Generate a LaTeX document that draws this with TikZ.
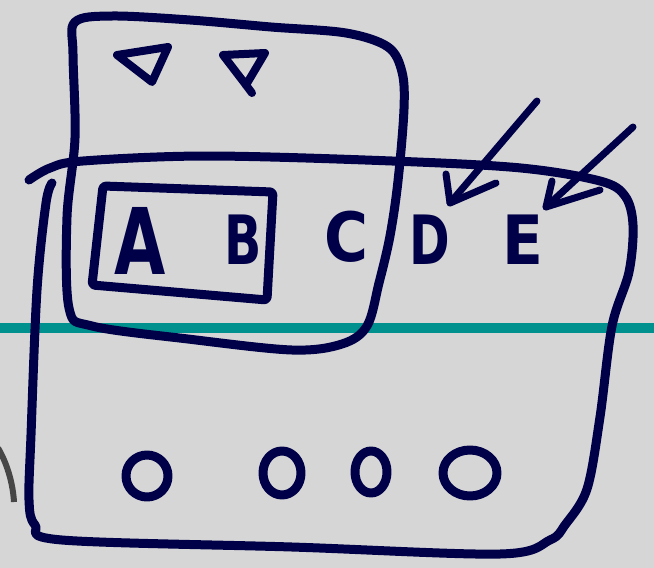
\documentclass[tikz,border=0pt]{standalone}
\usepackage{fontspec}
\setmainfont{DejaVu Sans}
\definecolor{navy}{RGB}{0,0,72}
\definecolor{bg}{RGB}{214,214,214}
\definecolor{tealline}{RGB}{0,145,143}
\definecolor{arcgray}{RGB}{70,70,70}
\begin{document}
\begin{tikzpicture}[x=1pt,y=-1pt, line cap=round, line join=round,
  pen/.style={draw=navy, line width=9pt},
  thinpen/.style={draw=navy, line width=7pt},
  glyph/.style={text=navy, inner sep=0pt, font=\bfseries\fontsize{68}{68}\selectfont},
  letter/.style={glyph, xscale=0.72},
  wideletter/.style={glyph, xscale=0.88},
  bigletter/.style={glyph, xscale=0.72, font=\bfseries\fontsize{92}{92}\selectfont}]
\fill[bg] (0,0) rectangle (654,568);
\useasboundingbox (0,0) rectangle (654,568);
% teal ruled line
\coordinate (tl) at (0,328);
\coordinate (tr) at (654,328);
\draw[tealline, line width=10pt, line cap=butt] (tl) -- (tr);
% grey arc at left edge
\draw[arcgray, line width=6pt, line cap=butt] (-2,448) .. controls (8,465) and (13,485) .. (14,502);
% upper box
\draw[pen] plot[smooth cycle, tension=0.55] coordinates {
 (75,22) (112,16) (190,20) (271,27) (346,33) (388,47) (402,72) (404,109)
 (398,181) (390,236) (379,283) (367,326) (342,344) (292,350) (188,339)
 (92,326) (69,308) (67,217) (75,138) (73,54)};
% big box
\draw[pen] plot[smooth, tension=0.55] coordinates {
 (29,180) (50,168) (83,161) (208,156) (392,161) (521,168) (600,181)
 (625,196) (633,225) (629,272) (612,326) (600,417) (587,489) (565,525)
 (550,540) (500,554) (292,547) (62,540) (35,525) (29,500) (31,435)
 (37,290) (46,203) (52,183)};
% inner box around A B
\draw[pen, rounded corners=3pt] (103,186) -- (273,192) -- (267,300) -- (92,285) -- cycle;
% triangles
\draw[pen, line width=8pt] (117,55) -- (168,47) -- (152,82) -- cycle;
\draw[pen, line width=8pt] (223,55) -- (265,53) -- (246,85) -- cycle;
\draw[pen, line width=8pt] (246,85) -- (252,93);
% letters
\node[bigletter] (A) at (140,241) {A};
\node[letter] (B) at (243,240) {B};
\node[wideletter] (C) at (346,237) {C};
\node[letter] (D) at (430,240) {D};
\node[wideletter] (E) at (523,240) {E};
% arrows pointing at D and E
\coordinate (a1s) at (537,101);
\coordinate (a1t) at (450,203);
\coordinate (a1l) at (446,174);
\coordinate (a1r) at (496,183);
\draw[thinpen] (a1s) -- (a1t);
\draw[thinpen] (a1l) -- (a1t) -- (a1r);
\coordinate (a2s) at (633,127);
\coordinate (a2t) at (546,207);
\coordinate (a2l) at (552,181);
\coordinate (a2r) at (600,190);
\draw[thinpen] (a2s) -- (a2t);
\draw[thinpen] (a2l) -- (a2t) -- (a2r);
% circles at the bottom
\draw[pen] (147,476) ellipse [x radius=21, y radius=21];
\draw[pen] (282,473) ellipse [x radius=19, y radius=22];
\draw[pen] (371,472) ellipse [x radius=16, y radius=21];
\draw[pen] (470,473) ellipse [x radius=27, y radius=23];
\end{tikzpicture}
\end{document}
